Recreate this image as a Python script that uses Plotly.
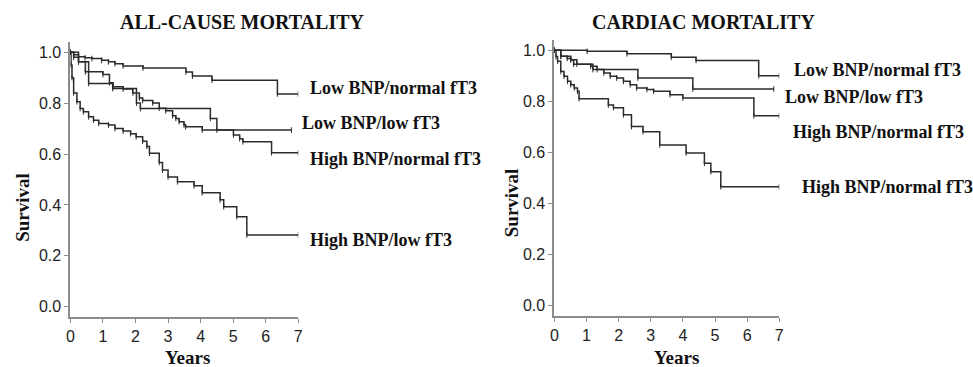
import plotly.graph_objects as go

W, H = 973, 367

# ---------------- data ----------------
# Left panel: all-cause mortality
ac_low_bnp_normal_t = [0, 0.1, 0.25, 0.45, 0.66, 0.96, 1.17, 1.37, 1.62, 2.23, 3.55, 3.75, 4.35, 6.36, 7.0]
ac_low_bnp_normal_s = [1.0, 0.99, 0.982, 0.978, 0.975, 0.968, 0.962, 0.955, 0.946, 0.938, 0.922, 0.906, 0.89, 0.836, 0.836]

ac_low_bnp_low_t = [0, 0.25, 0.56, 1.3, 2.03, 2.15, 4.3, 4.5, 6.79]
ac_low_bnp_low_s = [1.0, 0.962, 0.877, 0.857, 0.80, 0.779, 0.74, 0.694, 0.694]

ac_high_bnp_normal_t = [0, 0.1, 0.25, 0.46, 1.0, 1.2, 1.31, 1.62, 1.92, 2.12, 2.22, 2.53, 2.73, 2.93,
                        3.14, 3.24, 3.34, 3.49, 3.54, 4.05, 5.01, 5.2, 5.3, 6.18, 7.0]
ac_high_bnp_normal_s = [1.0, 0.98, 0.962, 0.923, 0.912, 0.88, 0.864, 0.855, 0.84, 0.82, 0.81, 0.80, 0.78, 0.77,
                        0.75, 0.74, 0.727, 0.714, 0.707, 0.694, 0.675, 0.66, 0.648, 0.605, 0.605]

ac_high_bnp_low_t = [0, 0.02, 0.05, 0.1, 0.2, 0.3, 0.4, 0.56, 0.71, 0.87, 1.17, 1.37, 1.62, 1.85, 2.02, 2.22,
                     2.35, 2.43, 2.73, 2.83, 3.0, 3.29, 3.8, 4.05, 4.6, 4.71, 5.11, 5.42, 7.0]
ac_high_bnp_low_s = [1.0, 0.95, 0.9, 0.84, 0.805, 0.779, 0.766, 0.746, 0.733, 0.72, 0.714, 0.70, 0.69, 0.68, 0.668,
                     0.65, 0.63, 0.603, 0.567, 0.537, 0.51, 0.491, 0.475, 0.448, 0.42, 0.393, 0.354, 0.282, 0.282]

# Right panel: cardiac mortality
cm_low_bnp_normal_t = [0, 1.02, 2.26, 3.64, 4.41, 6.36, 7.0]
cm_low_bnp_normal_s = [1.0, 0.996, 0.986, 0.972, 0.96, 0.90, 0.90]

cm_low_bnp_low_t = [0, 0.2, 0.51, 0.6, 1.2, 2.6, 4.31, 6.83]
cm_low_bnp_low_s = [1.0, 0.976, 0.963, 0.945, 0.924, 0.891, 0.848, 0.848]

cm_high_bnp_normal_t = [0, 0.2, 0.4, 0.51, 0.7, 1.13, 1.33, 1.54, 1.74, 1.94, 2.15, 2.36, 2.56, 2.88, 3.09,
                        3.6, 4.0, 6.21, 7.0]
cm_high_bnp_normal_s = [1.0, 0.976, 0.968, 0.963, 0.945, 0.937, 0.924, 0.911, 0.898, 0.891, 0.878, 0.865, 0.852,
                        0.846, 0.839, 0.826, 0.813, 0.743, 0.743]

cm_high_bnp_low_t = [0, 0.05, 0.1, 0.2, 0.3, 0.41, 0.51, 0.62, 0.72, 0.77, 1.68, 1.84, 2.15, 2.4, 2.76, 3.28,
                     4.1, 4.67, 4.87, 5.18, 7.0]
cm_high_bnp_low_s = [1.0, 0.975, 0.957, 0.917, 0.898, 0.878, 0.865, 0.852, 0.839, 0.81, 0.785, 0.775, 0.747,
                     0.701, 0.681, 0.629, 0.597, 0.557, 0.524, 0.465, 0.465]

left_labels = ["Low BNP/normal fT3", "Low BNP/low fT3", "High BNP/normal fT3", "High BNP/low fT3"]
right_labels = ["Low BNP/normal fT3", "Low BNP/low fT3", "High BNP/normal fT3", "High BNP/normal fT3"]
panel_titles = ["ALL-CAUSE MORTALITY", "CARDIAC MORTALITY"]
x_ticks = [0, 1, 2, 3, 4, 5, 6, 7]
y_ticks = [0.0, 0.2, 0.4, 0.6, 0.8, 1.0]

# ---------------- figure ----------------
def fx(p):
    return p / W

def fy(p):
    return 1 - p / H

LINE = "#2b2b2b"
AXIS = "#8c8c8c"
SERIF = "Liberation Serif, Times New Roman, serif"
SANS = "Liberation Sans, Arial, sans-serif"

fig = go.Figure()

left_series = [(ac_low_bnp_normal_t, ac_low_bnp_normal_s), (ac_low_bnp_low_t, ac_low_bnp_low_s),
               (ac_high_bnp_normal_t, ac_high_bnp_normal_s), (ac_high_bnp_low_t, ac_high_bnp_low_s)]
right_series = [(cm_low_bnp_normal_t, cm_low_bnp_normal_s), (cm_low_bnp_low_t, cm_low_bnp_low_s),
                (cm_high_bnp_normal_t, cm_high_bnp_normal_s), (cm_high_bnp_low_t, cm_high_bnp_low_s)]

for (t, s), name in zip(left_series, left_labels):
    fig.add_trace(go.Scatter(x=t, y=s, mode="lines+markers", line=dict(shape="hv", color=LINE, width=1.5),
                             marker=dict(symbol="line-ns", size=4, line=dict(color=LINE, width=1)),
                             name=name, xaxis="x", yaxis="y", showlegend=False))
for (t, s), name in zip(right_series, right_labels):
    fig.add_trace(go.Scatter(x=t, y=s, mode="lines+markers", line=dict(shape="hv", color=LINE, width=1.5),
                             marker=dict(symbol="line-ns", size=4, line=dict(color=LINE, width=1)),
                             name=name, xaxis="x2", yaxis="y2", showlegend=False))

axis_common = dict(showline=True, linecolor=AXIS, linewidth=2, ticks="outside", ticklen=4,
                   tickcolor=AXIS, tickwidth=1, showgrid=False, zeroline=False,
                   tickfont=dict(family=SANS, size=16, color="#222222"))

fig.update_layout(
    width=W, height=H, margin=dict(l=0, r=0, t=0, b=0),
    paper_bgcolor="white", plot_bgcolor="white",
    xaxis=dict(domain=[fx(67), fx(297)], range=[0, 7], tickvals=x_ticks, anchor="y", **axis_common),
    yaxis=dict(domain=[fy(317), fy(42)], range=[-0.04, 1.04], tickvals=y_ticks, tickformat=".1f",
               anchor="x", **axis_common),
    xaxis2=dict(domain=[fx(555.5), fx(782.5)], range=[0, 7], tickvals=x_ticks, anchor="y2", **axis_common),
    yaxis2=dict(domain=[fy(315.7), fy(40)], range=[-0.04, 1.04], tickvals=y_ticks, tickformat=".1f",
                anchor="x2", **axis_common),
)

ann = []
# panel titles
ann.append(dict(text="<b>%s</b>" % panel_titles[0], x=fx(241), y=fy(22), xref="paper", yref="paper",
                showarrow=False, xanchor="center", yanchor="middle",
                font=dict(family=SERIF, size=20, color="#111")))
ann.append(dict(text="<b>%s</b>" % panel_titles[1], x=fx(706), y=fy(22), xref="paper", yref="paper",
                showarrow=False, xanchor="center", yanchor="middle",
                font=dict(family=SERIF, size=20, color="#111")))
# axis titles
for xp, yp in [(18, 207), (513, 203)]:
    ann.append(dict(text="<b>Survival</b>", x=fx(xp), y=fy(yp), xref="paper", yref="paper", textangle=-90,
                    showarrow=False, xanchor="center", yanchor="middle",
                    font=dict(family=SERIF, size=19, color="#111")))
for xp, yp in [(185, 357), (679, 357)]:
    ann.append(dict(text="<b>Years</b>", x=fx(xp), y=fy(yp), xref="paper", yref="paper",
                    showarrow=False, xanchor="center", yanchor="middle",
                    font=dict(family=SERIF, size=19, color="#111")))
# curve labels
left_pos = [(307, 88), (299, 123), (307, 159), (307, 240)]
right_pos = [(795, 70), (786, 97), (794, 132), (803, 187)]
for lab, (xp, yp) in zip(left_labels, left_pos):
    ann.append(dict(text="<b>%s</b>" % lab, x=fx(xp), y=fy(yp), xref="paper", yref="paper",
                    showarrow=False, xanchor="left", yanchor="middle",
                    font=dict(family=SERIF, size=18, color="#111")))
for lab, (xp, yp) in zip(right_labels, right_pos):
    ann.append(dict(text="<b>%s</b>" % lab, x=fx(xp), y=fy(yp), xref="paper", yref="paper",
                    showarrow=False, xanchor="left", yanchor="middle",
                    font=dict(family=SERIF, size=18, color="#111")))
fig.update_layout(annotations=ann)

fig.write_html("out.html")
